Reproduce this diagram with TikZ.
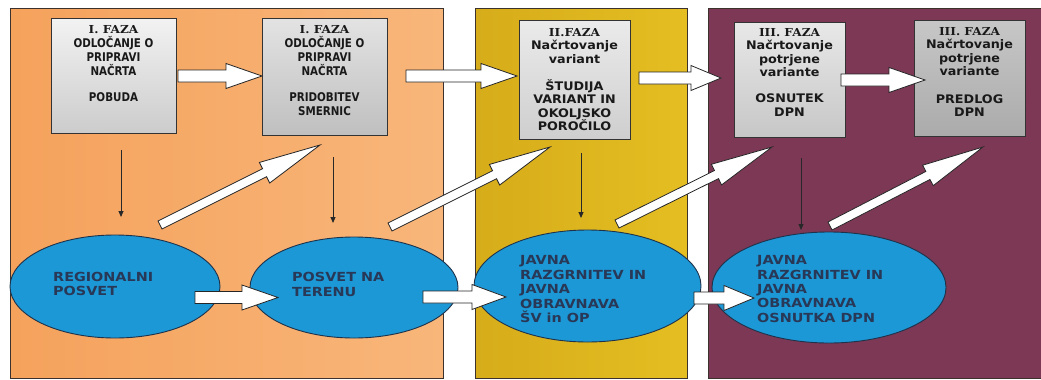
\documentclass[tikz,border=0pt]{standalone}
\usepackage{fontspec}
\usetikzlibrary{calc,shapes.geometric,arrows.meta}
\newfontfamily\serifB{DejaVu Serif}[FakeStretch=1.1]
\newfontfamily\tahB{DejaVu Sans}[FakeStretch=0.86]
\newfontfamily\verB{DejaVu Sans}[FakeStretch=1.08]
\newfontfamily\ellB{DejaVu Sans}[FakeStretch=1.15]

\definecolor{orangeL}{RGB}{245,162,92}
\definecolor{orangeR}{RGB}{248,182,122}
\definecolor{yelL}{RGB}{214,172,26}
\definecolor{yelR}{RGB}{228,190,34}
\definecolor{maroonP}{RGB}{124,56,84}
\definecolor{panelline}{RGB}{60,50,45}
\definecolor{ellblue}{RGB}{28,152,214}
\definecolor{elledge}{RGB}{30,50,75}
\definecolor{elltext}{RGB}{40,56,86}
\definecolor{boxtext}{RGB}{25,25,25}
\definecolor{arrline}{RGB}{40,40,40}

\newcommand\fatarw[5]{%
  \coordinate (fatN) at ($(#2)!#4!(#1)$);
  \draw[fatarrow] ($(#1)!#3!90:(#2)$) -- ($(fatN)!#3!-90:(#1)$) -- ($(fatN)!#5!-90:(#1)$) -- (#2) -- ($(fatN)!#5!90:(#1)$) -- ($(fatN)!#3!90:(#1)$) -- ($(#1)!#3!-90:(#2)$) -- cycle;}

\tikzset{
 panel/.style={draw=panelline, line width=0.8pt},
 gbox/.style={draw=black!80, line width=0.9pt, rectangle, inner sep=0pt},
 ell/.style={ellipse, draw=elledge, line width=0.9pt, fill=ellblue, inner sep=0pt},
 btextA/.style={anchor=north, inner sep=0pt, align=center, text=boxtext, font=\fontsize{12}{14}\selectfont},
 btextB/.style={anchor=north, inner sep=0pt, align=center, text=boxtext, font=\fontsize{11.8}{13.5}\selectfont},
 etext/.style={anchor=north west, inner sep=0pt, align=left, text=elltext},
 fatarrow/.style={draw=black!85, fill=white, line width=0.8pt, line join=miter},
 thinarr/.style={draw=arrline, line width=0.9pt, -{Triangle[length=6pt,width=5pt]}},
}

\begin{document}
\begin{tikzpicture}[x=1pt,y=-1pt]
\useasboundingbox (0,0) rectangle (1041,380);

% panels
\draw[panel, left color=orangeL, right color=orangeR] (10,8) rectangle (443,378);
\draw[panel, left color=yelL, right color=yelR] (475,8) rectangle (687,378);
\draw[panel, fill=maroonP] (708,8) rectangle (1046,378);

% boxes
\node[gbox, minimum width=125pt, minimum height=115pt, top color=black!5, bottom color=black!20] (box1) at (113.5,75.5) {};
\node[gbox, minimum width=125pt, minimum height=117pt, top color=black!11, bottom color=black!25] (box2) at (324.5,76.5) {};
\node[gbox, minimum width=111pt, minimum height=119pt, top color=black!8, bottom color=black!19] (box3) at (574.5,79.5) {};
\node[gbox, minimum width=111pt, minimum height=115pt, top color=black!9, bottom color=black!22] (box4) at (789.5,79.5) {};
\node[gbox, minimum width=111pt, minimum height=116pt, top color=black!22, bottom color=black!33] (box5) at (969.5,78) {};

\node[btextA] (t1) at ($(box1.north)+(0,7.5)$) {{\serifB\bfseries\fontsize{11}{14}\selectfont I. FAZA}\\ \tahB\bfseries ODLOČANJE O\\ \tahB\bfseries PRIPRAVI\\ \tahB\bfseries NAČRTA\\[12pt] \tahB\bfseries POBUDA};
\node[btextA] (t2) at ($(box2.north)+(0,7.5)$) {{\serifB\bfseries\fontsize{11}{14}\selectfont I. FAZA}\\ \tahB\bfseries ODLOČANJE O\\ \tahB\bfseries PRIPRAVI\\ \tahB\bfseries NAČRTA\\[12pt] \tahB\bfseries PRIDOBITEV\\ \tahB\bfseries SMERNIC};
\node[btextB] (t3) at ($(box3.north)+(0,8.5)$) {{\serifB\bfseries\fontsize{11}{13.5}\selectfont II.FAZA}\\ \verB\bfseries Načrtovanje\\ \verB\bfseries variant\\[13.5pt] \verB\bfseries ŠTUDIJA\\ \verB\bfseries VARIANT IN\\ \verB\bfseries OKOLJSKO\\ \verB\bfseries POROČILO};
\node[btextB] (t4) at ($(box4.north)+(0,6.5)$) {{\serifB\bfseries\fontsize{11}{13.5}\selectfont III. FAZA}\\ \verB\bfseries Načrtovanje\\ \verB\bfseries potrjene\\ \verB\bfseries variante\\[12.5pt] \verB\bfseries OSNUTEK\\ \verB\bfseries DPN};
\node[btextB] (t5) at ($(box5.north)+(0,7.5)$) {{\serifB\bfseries\fontsize{11}{13.5}\selectfont III. FAZA}\\ \verB\bfseries Načrtovanje\\ \verB\bfseries potrjene\\ \verB\bfseries variante\\[14pt] \verB\bfseries PREDLOG\\ \verB\bfseries DPN};

% ellipses
\node[ell, minimum width=210pt, minimum height=103pt] (e1) at (115,286.5) {};
\node[ell, minimum width=208pt, minimum height=101pt] (e2) at (354,287.5) {};
\node[ell, minimum width=227pt, minimum height=112pt] (e3) at (587.5,286) {};
\node[ell, minimum width=234pt, minimum height=111pt] (e4) at (829,287.5) {};

\node[etext, font=\ellB\bfseries\fontsize{12.5}{13.5}\selectfont] (et1) at (53,272.5) {REGIONALNI\\POSVET};
\node[etext, font=\ellB\bfseries\fontsize{12.5}{14.5}\selectfont] (et2) at (292,272.5) {POSVET NA\\TERENU};
\node[etext, font=\ellB\bfseries\fontsize{12.5}{14.5}\selectfont] (et3) at (520,255.5) {JAVNA\\RAZGRNITEV IN\\JAVNA\\OBRAVNAVA\\ŠV in OP};
\node[etext, font=\ellB\bfseries\fontsize{12.5}{14.3}\selectfont] (et4) at (757,255.5) {JAVNA\\RAZGRNITEV IN\\JAVNA\\OBRAVNAVA\\OSNUTKA DPN};

% thin arrows
\coordinate (v1s) at (121,150); \coordinate (v1e) at (121,217);
\coordinate (v2s) at (333,157); \coordinate (v2e) at (333,223);
\coordinate (v3s) at (581,153); \coordinate (v3e) at (581,218);
\coordinate (v4s) at (801,158); \coordinate (v4e) at (801,230);
\draw[thinarr] (v1s) -- (v1e);
\draw[thinarr] (v2s) -- (v2e);
\draw[thinarr] (v3s) -- (v3e);
\draw[thinarr] (v4s) -- (v4e);

% fat arrows
\coordinate (h1s) at (178,76);    \coordinate (h1e) at (262,76);
\coordinate (h2s) at (406,76);    \coordinate (h2e) at (517,76);
\coordinate (h3s) at (639,78);    \coordinate (h3e) at (721,78);
\coordinate (h4s) at (841,80);    \coordinate (h4e) at (925,80);
\coordinate (h5s) at (195,297.5); \coordinate (h5e) at (278,297.5);
\coordinate (h6s) at (423,297);   \coordinate (h6e) at (506,297);
\coordinate (h7s) at (694,298);   \coordinate (h7e) at (754,298);
\coordinate (d1s) at (160,225);   \coordinate (d1e) at (320,145);
\coordinate (d2s) at (390,227);   \coordinate (d2e) at (550,147);
\coordinate (d3s) at (617,224);   \coordinate (d3e) at (772,147);
\coordinate (d4s) at (830,226);   \coordinate (d4e) at (983,147);

\fatarw{h1s}{h1e}{6pt}{36pt}{12.5pt}
\fatarw{h2s}{h2e}{6pt}{36pt}{12.5pt}
\fatarw{h3s}{h3e}{6pt}{30pt}{12.5pt}
\fatarw{h4s}{h4e}{6pt}{36pt}{12.5pt}
\fatarw{h5s}{h5e}{6pt}{36pt}{12.5pt}
\fatarw{h6s}{h6e}{6pt}{34pt}{12.5pt}
\fatarw{h7s}{h7e}{6pt}{30pt}{12.5pt}
\fatarw{d1s}{d1e}{4.5pt}{62pt}{11.5pt}
\fatarw{d2s}{d2e}{4.5pt}{62pt}{11.5pt}
\fatarw{d3s}{d3e}{4.5pt}{62pt}{11.5pt}
\fatarw{d4s}{d4e}{4.5pt}{62pt}{11.5pt}
\end{tikzpicture}
\end{document}
